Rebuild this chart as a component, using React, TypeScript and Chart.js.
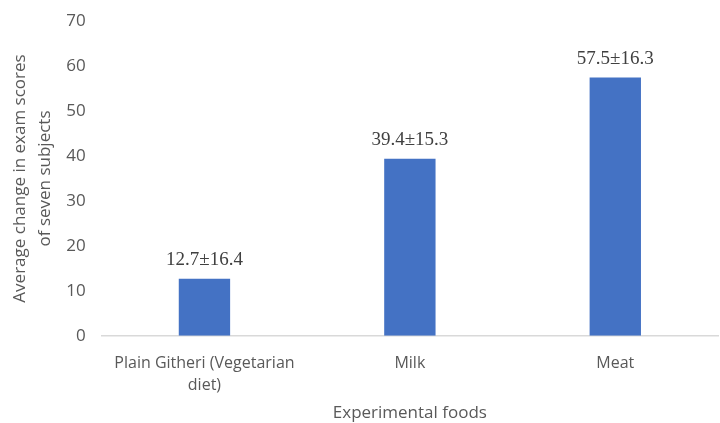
import React, { useEffect, useRef } from "react";
import { Chart, registerables } from "chart.js";

Chart.register(...registerables);

const categories: (string | string[])[] = [["Plain Githeri (Vegetarian", "diet)"], "Milk", "Meat"];
const meanValues = [12.7, 39.4, 57.5];
const valueLabels = ["12.7±16.4", "39.4±15.3", "57.5±16.3"];
const yTitle = ["Average change in exam scores", "of seven subjects"];
const xTitle = "Experimental foods";

const labelPlugin = {
  id: "valueLabels",
  afterDatasetsDraw(chart: any) {
    const ctx = chart.ctx;
    const meta = chart.getDatasetMeta(0);
    ctx.save();
    ctx.font = "19px 'Liberation Serif', 'Times New Roman', serif";
    ctx.fillStyle = "#404040";
    ctx.textAlign = "center";
    ctx.textBaseline = "bottom";
    meta.data.forEach((bar: any, i: number) => {
      ctx.fillText(valueLabels[i], bar.x, bar.y - 9);
    });
    ctx.restore();
  },
};

export default function App() {
  const ref = useRef<HTMLCanvasElement>(null);
  useEffect(() => {
    if (!ref.current) return;
    const chart = new Chart(ref.current, {
      type: "bar",
      data: {
        labels: categories as any,
        datasets: [
          {
            data: meanValues,
            backgroundColor: "#4472C4",
            barPercentage: 0.5,
            categoryPercentage: 0.5,
          },
        ],
      },
      options: {
        animation: false,
        responsive: false,
        maintainAspectRatio: false,
        layout: { padding: { top: 0, right: 2, left: 8, bottom: 0 } },
        plugins: { legend: { display: false }, tooltip: { enabled: false } },
        scales: {
          x: {
            grid: { display: false, drawTicks: false },
            border: { color: "#d9d9d9", width: 1.5 },
            ticks: {
              color: "#595959",
              font: { family: "'Open Sans'", size: 16, lineHeight: 1.4 },
              padding: 16,
              maxRotation: 0,
            },
            title: {
              display: true,
              text: xTitle,
              color: "#595959",
              font: { family: "'Open Sans'", size: 17 },
              padding: { top: -10, bottom: 0 },
            },
          },
          y: {
            min: 0,
            max: 70,
            ticks: {
              stepSize: 10,
              color: "#595959",
              font: { family: "'Open Sans'", size: 17 },
              padding: 16,
            },
            grid: { display: false, drawTicks: false },
            border: { display: false },
            title: {
              display: true,
              text: yTitle,
              color: "#595959",
              font: { family: "'Open Sans'", size: 17, lineHeight: 1.45 },
              padding: { top: 0, bottom: -7 },
            },
          },
        },
      },
      plugins: [labelPlugin],
    });
    return () => chart.destroy();
  }, []);
  return (
    <div style={{ position: "absolute", left: 0, top: 0, width: 720, height: 423, background: "#fff", overflow: "hidden" }}>
      <canvas
        ref={ref}
        width={720}
        height={428}
        style={{ position: "absolute", left: 0, top: -5, width: 720, height: 428 }}
      />
    </div>
  );
}
